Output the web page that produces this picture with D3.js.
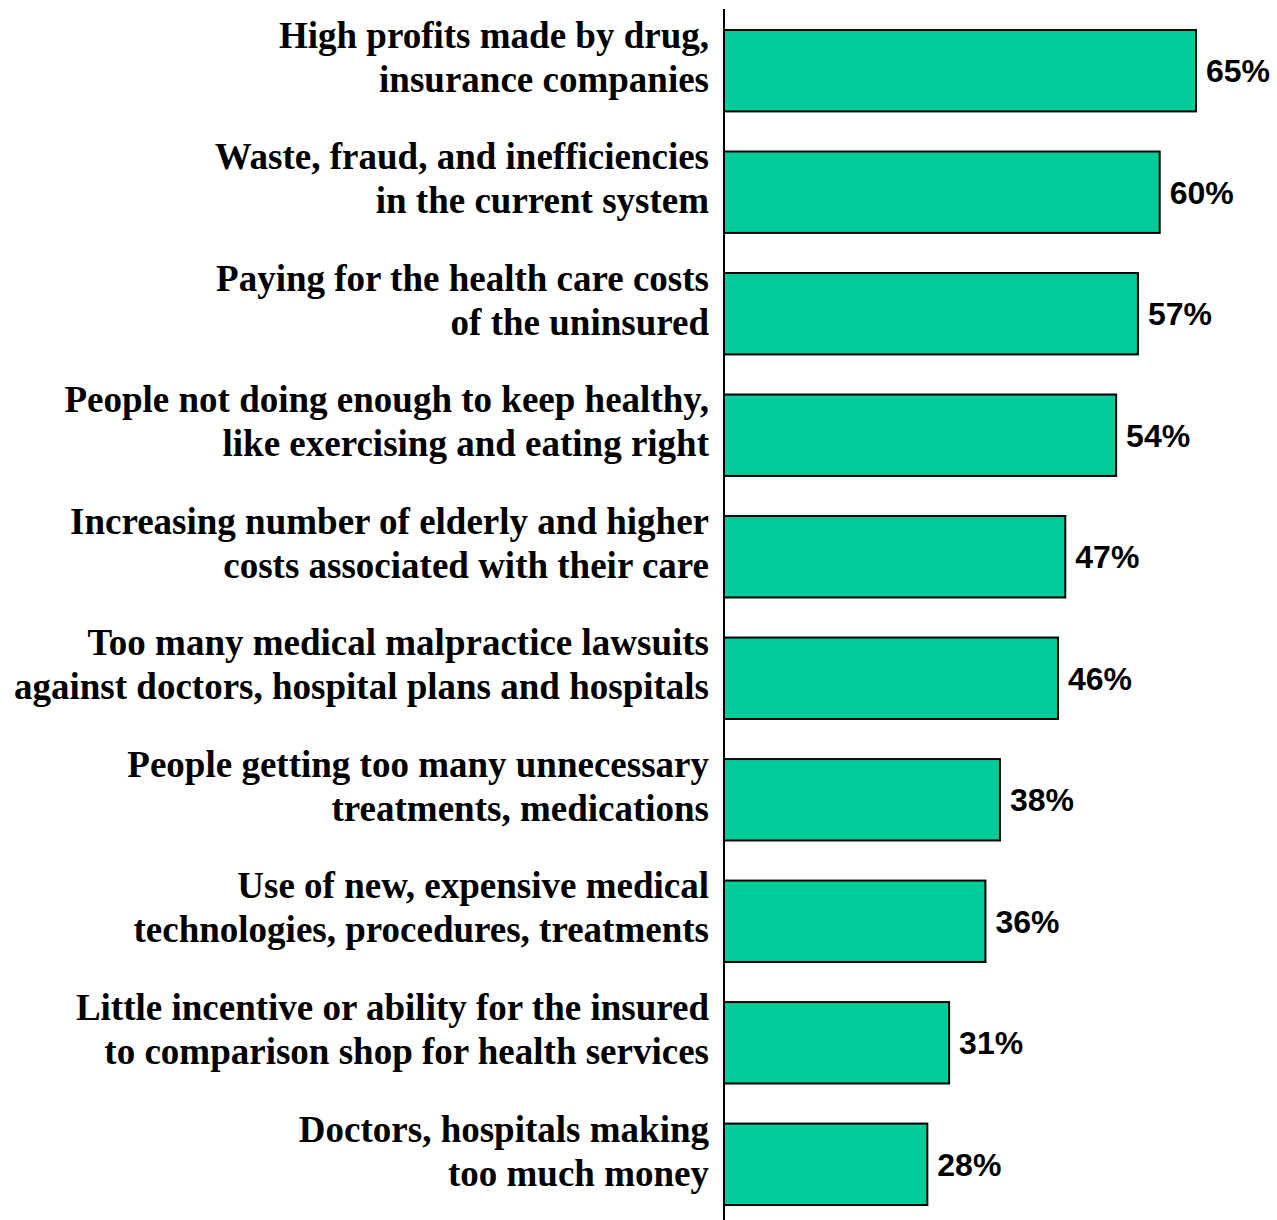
<!DOCTYPE html>
<html>
<head>
<meta charset="utf-8">
<script src="https://cdn.jsdelivr.net/npm/d3@7"></script>
<style>
  html, body { margin: 0; padding: 0; background: #fff; }
  svg { display: block; }
</style>
</head>
<body>
<script>
// Perceived causes of rising health care costs (share of respondents)
const categories = [
  ["High profits made by drug,", "insurance companies"],
  ["Waste, fraud, and inefficiencies", "in the current system"],
  ["Paying for the health care costs", "of the uninsured"],
  ["People not doing enough to keep healthy,", "like exercising and eating right"],
  ["Increasing number of elderly and higher", "costs associated with their care"],
  ["Too many medical malpractice lawsuits", "against doctors, hospital plans and hospitals"],
  ["People getting too many unnecessary", "treatments, medications"],
  ["Use of new, expensive medical", "technologies, procedures, treatments"],
  ["Little incentive or ability for the insured", "to comparison shop for health services"],
  ["Doctors, hospitals making", "too much money"]
];
const values = [65, 60, 57, 54, 47, 46, 38, 36, 31, 28];
const valueLabels = ["65%", "60%", "57%", "54%", "47%", "46%", "38%", "36%", "31%", "28%"];

const W = 1277, H = 1220;
const axisX = 724;

const svg = d3.select("body").append("svg")
  .attr("width", W).attr("height", H);

const ids = d3.range(categories.length);

const x = d3.scaleLinear().domain([0, 65]).range([axisX, 1196]);
const y = d3.scaleBand().domain(ids).range([30, 1205]).paddingInner(0.33).paddingOuter(0);

// bars
svg.append("g").selectAll("rect")
  .data(ids)
  .join("rect")
  .attr("x", x(0))
  .attr("y", i => y(i))
  .attr("width", i => x(values[i]) - x(0))
  .attr("height", y.bandwidth())
  .attr("fill", "#00CC99")
  .attr("stroke", "#000")
  .attr("stroke-width", 2);

// vertical baseline
svg.append("line")
  .attr("x1", axisX).attr("x2", axisX)
  .attr("y1", 9).attr("y2", H)
  .attr("stroke", "#000").attr("stroke-width", 2);

// value labels
svg.append("g").selectAll("text")
  .data(ids)
  .join("text")
  .attr("x", i => x(values[i]) + 10)
  .attr("y", i => y(i) + y.bandwidth() / 2)
  .attr("dy", "0.36em")
  .attr("font-family", "'Liberation Sans', Arial, sans-serif")
  .attr("font-weight", "bold")
  .attr("font-size", 32)
  .attr("fill", "#000")
  .text(i => valueLabels[i]);

// category labels (two lines each)
const lab = svg.append("g").selectAll("text")
  .data(ids)
  .join("text")
  .attr("text-anchor", "end")
  .attr("font-family", "'Times New Roman', 'Liberation Serif', serif")
  .attr("font-weight", "bold")
  .attr("font-size", 37)
  .attr("fill", "#000");

lab.each(function(i) {
  const cy = y(i) + y.bandwidth() / 2 - 13;
  const t = d3.select(this);
  categories[i].forEach((line, k) => {
    t.append("tspan")
      .attr("x", 709)
      .attr("y", cy + (k === 0 ? -22 : 22))
      .attr("dy", "0.33em")
      .text(line);
  });
});
</script>
</body>
</html>
